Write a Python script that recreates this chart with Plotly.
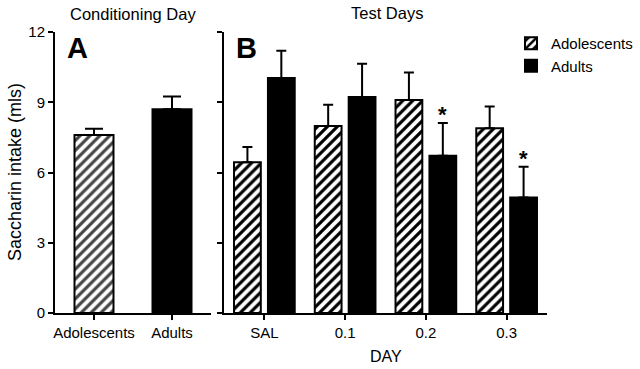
import plotly.graph_objects as go

# ---- data ----
cond_groups = ["Adolescents", "Adults"]
cond_means = [7.6, 8.7]
cond_sem = [0.27, 0.55]

test_days = ["SAL", "0.1", "0.2", "0.3"]
adol_means = [6.44, 7.99, 9.10, 7.89]
adol_sem = [0.65, 0.90, 1.17, 0.93]
adult_means = [10.04, 9.22, 6.71, 4.93]
adult_sem = [1.16, 1.42, 1.40, 1.32]
sig_days = ["0.2", "0.3"]

yticks = [0, 3, 6, 9, 12]

FONT = "Liberation Sans, Arial, sans-serif"
W, H = 640, 369
ML, MR, MT, MB = 55, 93, 32, 56
PW, PH = W - ML - MR, H - MT - MB


def px(x):
    return (x - ML) / PW


def py(y):
    return (H - MB - y) / PH


HATCH = dict(fgcolor="black", fgopacity=1, size=7, solidity=0.45)

fig = go.Figure()

# left panel
fig.add_trace(go.Bar(
    x=cond_groups, y=cond_means, width=0.5,
    marker=dict(color=["white", "black"], line=dict(color="black", width=2),
                pattern=dict(shape=["/", ""], **HATCH)),
    error_y=dict(type="data", symmetric=False, array=cond_sem, arrayminus=[0, 0],
                 color="black", thickness=2, width=9),
    showlegend=False, xaxis="x", yaxis="y"))

# right panel
fig.add_trace(go.Bar(
    name="Adolescents", x=test_days, y=adol_means,
    marker=dict(color="white", line=dict(color="black", width=2),
                pattern=dict(shape="/", **HATCH)),
    error_y=dict(type="data", symmetric=False, array=adol_sem, arrayminus=[0] * 4,
                 color="black", thickness=2, width=5),
    xaxis="x2", yaxis="y2"))
fig.add_trace(go.Bar(
    name="Adults", x=test_days, y=adult_means,
    marker=dict(color="black", line=dict(color="black", width=2)),
    error_y=dict(type="data", symmetric=False, array=adult_sem, arrayminus=[0] * 4,
                 color="black", thickness=2, width=5),
    xaxis="x2", yaxis="y2"))

axis_common = dict(showline=True, linecolor="black", linewidth=2, ticks="outside",
                   ticklen=5, tickwidth=2, tickcolor="black", showgrid=False,
                   zeroline=False, automargin=False,
                   tickfont=dict(family=FONT, size=15, color="black"))

ann = []
# significance stars
for d in sig_days:
    i = test_days.index(d)
    ann.append(dict(x=i + 0.21, y=adult_means[i] + adult_sem[i], xref="x2", yref="y2",
                    text="<b>*</b>", showarrow=False, yanchor="bottom",
                    font=dict(family=FONT, size=22, color="black"), yshift=-6))

ann += [
    dict(x=px(133), y=py(14), text="Conditioning Day", font=dict(size=16.5)),
    dict(x=px(387), y=py(13), text="Test Days", font=dict(size=16.5)),
    dict(x=px(77), y=py(48), text="<b>A</b>", font=dict(size=29)),
    dict(x=px(246), y=py(48), text="<b>B</b>", font=dict(size=29)),
    dict(x=px(15), y=py(172), text="Saccharin intake (mls)", textangle=-90, font=dict(size=18)),
    dict(x=px(386), y=py(356), text="DAY", font=dict(size=16)),
]
for a in ann[len(sig_days):]:
    a.update(xref="paper", yref="paper", showarrow=False, xanchor="center", yanchor="middle")
    a["font"].update(family=FONT, color="black")

fig.update_layout(
    width=W, height=H, margin=dict(l=ML, r=MR, t=MT, b=MB, autoexpand=False),
    paper_bgcolor="white", plot_bgcolor="white",
    barmode="group", bargap=0.16, bargroupgap=0.21,
    font=dict(family=FONT, color="black"),
    xaxis=dict(domain=[0, px(211)], range=[-0.5, 1.5], type="category", **axis_common),
    yaxis=dict(range=[0, 12], tickvals=yticks, **axis_common),
    xaxis2=dict(domain=[px(224), 1], range=[-0.5, 3.5], type="category", anchor="y2", **axis_common),
    yaxis2=dict(range=[0, 12], tickvals=yticks, showticklabels=False, anchor="x2", **axis_common),
    legend=dict(x=px(511), y=py(27), xanchor="left", yanchor="top", tracegroupgap=0,
                font=dict(family=FONT, size=15, color="black"), bgcolor="rgba(0,0,0,0)"),
    annotations=ann,
)

fig.write_html("out.html", config={"displayModeBar": False},
               post_script="document.body.style.margin='0';")
